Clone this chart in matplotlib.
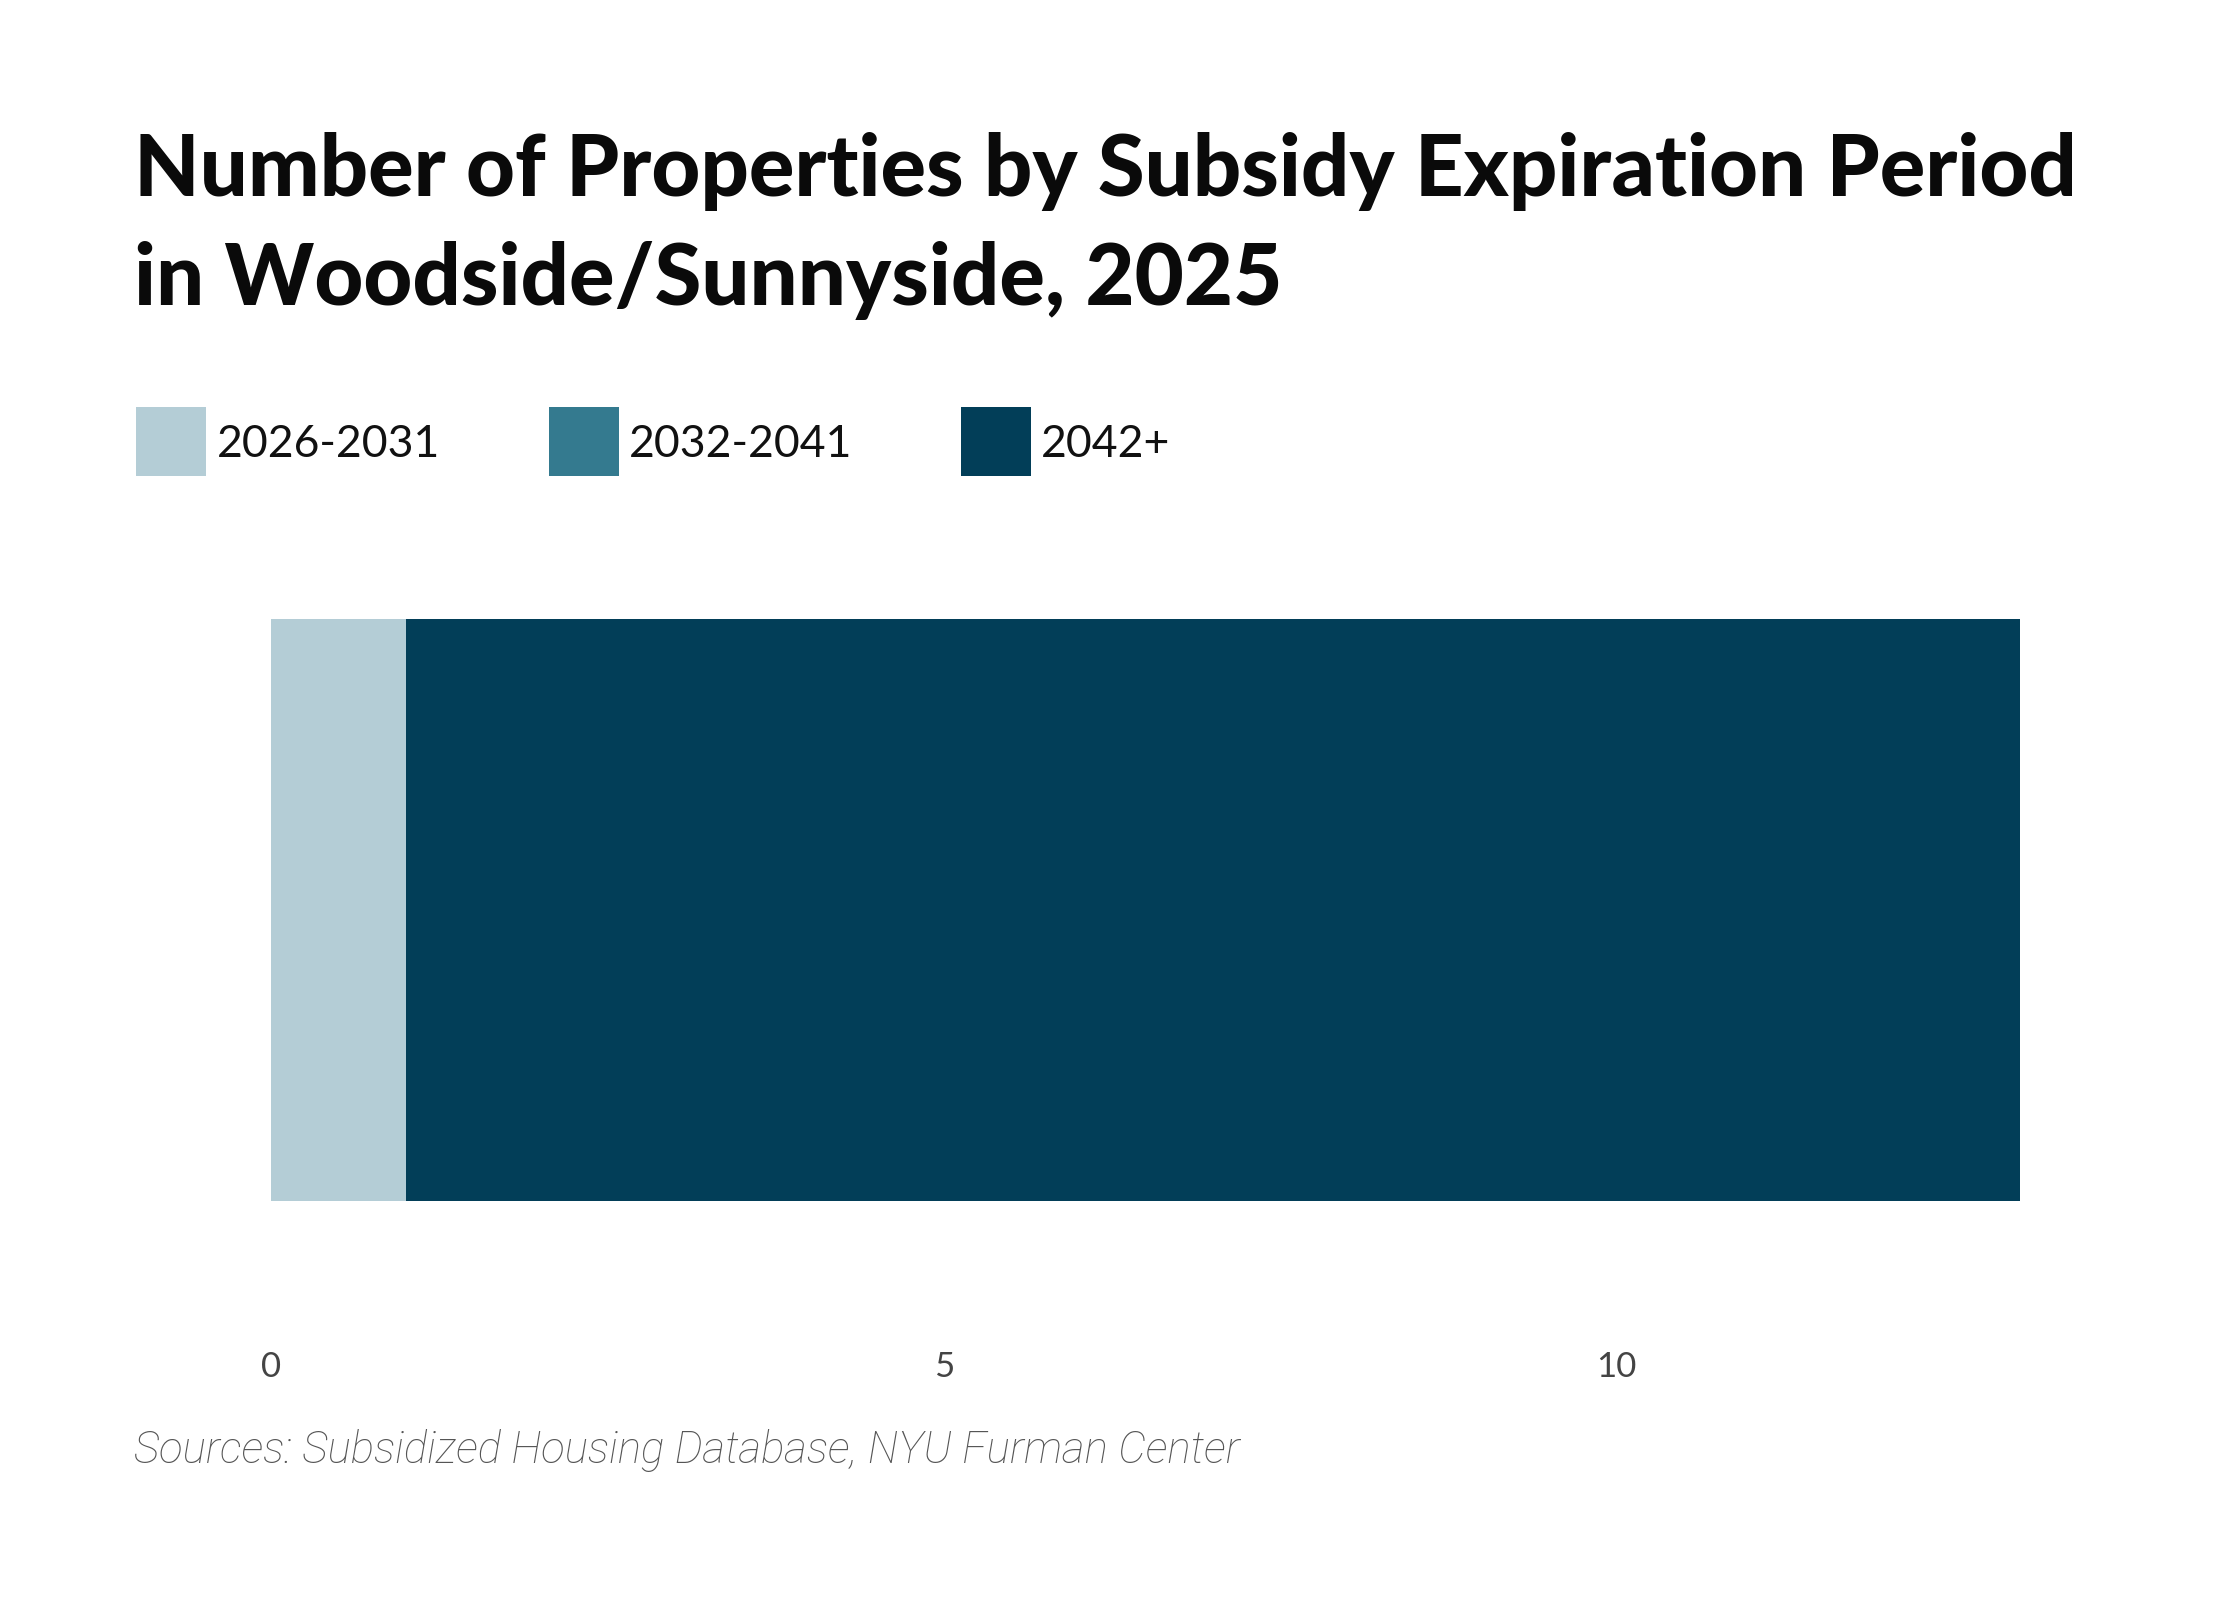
import matplotlib
matplotlib.use("Agg")
import matplotlib.pyplot as plt
from matplotlib.patches import Rectangle

# Data
categories = ["Woodside/Sunnyside"]
periods = ["2026-2031", "2032-2041", "2042+"]
values = [1, 0, 12]
colors = ["#b4cdd6", "#347a8f", "#023e58"]
xticks = [0, 5, 10]

W, H = 2240, 1600
fig = plt.figure(figsize=(W / 200, H / 200), dpi=200)
fig.patch.set_facecolor("white")

def fx(px):
    return px / W

def fy(py):
    return 1 - py / H

# Title
for txt, base in [("Number of Properties by Subsidy Expiration Period", 196),
                  ("in Woodside/Sunnyside, 2025", 305)]:
    fig.text(fx(134), fy(base), txt, fontsize=30.6, fontweight="black",
             family="Lato", color="#0a0a0a", ha="left", va="baseline")

# Legend
leg_x = [136, 549, 961]
lab_x = [217, 629, 1041]
for x0, lx, lab, c in zip(leg_x, lab_x, periods, colors):
    fig.patches.append(Rectangle((fx(x0), fy(476)), 70 / W, 69 / H,
                                 transform=fig.transFigure, facecolor=c,
                                 edgecolor="none"))
    fig.text(fx(lx), fy(444), lab, fontsize=16, family="Lato",
             color="#111111", ha="left", va="center")

# Axes
ax = fig.add_axes([fx(271), fy(1201), (2020 - 271) / W, (1201 - 619) / H])
left = 0
for v, c, lab in zip(values, colors, periods):
    ax.barh(categories, [v], left=left, height=1.0, color=c, label=lab,
            edgecolor="none")
    left += v
ax.set_xlim(0, sum(values))
ax.set_ylim(-0.5, 0.5)
ax.set_xticks(xticks)
ax.set_xticklabels([str(t) for t in xticks], fontsize=12.5, family="Lato",
                   color="#444444")
ax.tick_params(axis="x", length=0, pad=54)
ax.set_yticks([])
for s in ax.spines.values():
    s.set_visible(False)

# Source
fig.text(fx(134), fy(1450), "Sources: Subsidized Housing Database, NYU Furman Center",
         fontsize=15.8, family="Roboto", style="italic", fontweight="light",
         color="#555555", ha="left", va="center")

fig.savefig("out.png", dpi=200, facecolor="white")
